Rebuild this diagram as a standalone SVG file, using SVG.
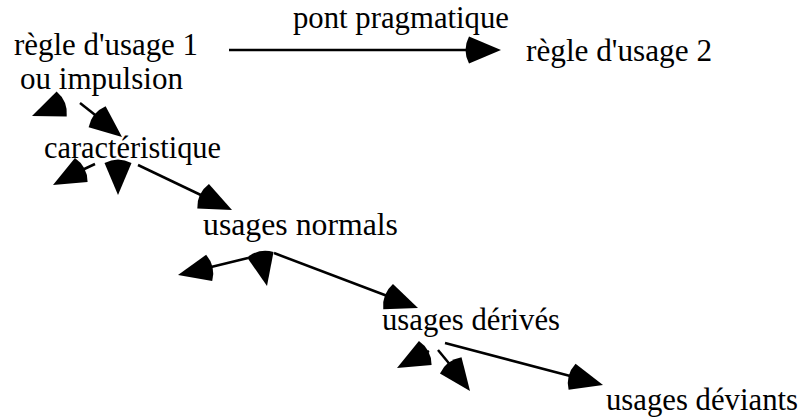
<svg xmlns="http://www.w3.org/2000/svg" xmlns:xlink="http://www.w3.org/1999/xlink" width="801" height="418" viewBox="0 0 801 418">
<style>
  text { font-family: "Liberation Serif", "Times New Roman", serif; font-size: 31px; fill: #000; }
  .ln { stroke: #000; stroke-width: 2.5; fill: none; }
  .hd { fill: #000; stroke: none; }
</style>
<defs>
  <path id="ah" d="M0,0 L-32,-13.5 Q-39,0 -32,13.5 Z"/>
</defs>
<rect width="801" height="418" fill="#fff"/>
<g id="regle1">
  <text x="14" y="55" textLength="184" lengthAdjust="spacingAndGlyphs">règle d'usage 1</text>
  <text x="20" y="89" textLength="163" lengthAdjust="spacingAndGlyphs">ou impulsion</text>
</g>
<g id="pont"><text x="293" y="28" textLength="216" lengthAdjust="spacingAndGlyphs">pont pragmatique</text></g>
<g id="regle2"><text x="526" y="61" textLength="186" lengthAdjust="spacingAndGlyphs">règle d'usage 2</text></g>
<g id="caracteristique"><text x="44" y="158" textLength="177" lengthAdjust="spacingAndGlyphs">caractéristique</text></g>
<g id="normals"><text x="203" y="235" textLength="195" lengthAdjust="spacingAndGlyphs">usages normals</text></g>
<g id="derives"><text x="382" y="330" textLength="178" lengthAdjust="spacingAndGlyphs">usages dérivés</text></g>
<g id="deviants"><text x="606" y="410" textLength="192" lengthAdjust="spacingAndGlyphs">usages déviants</text></g>
<g id="connectors">
  <line class="ln" x1="229" y1="50" x2="472" y2="50"/>
  <use class="hd" xlink:href="#ah" transform="translate(501,50)"/>
  <line class="ln" x1="80" y1="103" x2="99" y2="118"/>
  <use class="hd" xlink:href="#ah" transform="translate(122,137) rotate(39)"/>
  <use class="hd" xlink:href="#ah" transform="translate(32,116) rotate(158)"/>
  <line class="ln" x1="138" y1="165" x2="205" y2="197"/>
  <use class="hd" xlink:href="#ah" transform="translate(232,210) rotate(25.5)"/>
  <line class="ln" x1="95" y1="164" x2="80" y2="171"/>
  <use class="hd" xlink:href="#ah" transform="translate(53,185) rotate(152)"/>
  <use class="hd" xlink:href="#ah" transform="translate(118,195) rotate(90)"/>
  <line class="ln" x1="248" y1="258" x2="207" y2="268"/>
  <use class="hd" xlink:href="#ah" transform="translate(178,275) rotate(167)"/>
  <use class="hd" xlink:href="#ah" transform="translate(267,286) rotate(78)"/>
  <line class="ln" x1="274" y1="253" x2="390" y2="297"/>
  <use class="hd" xlink:href="#ah" transform="translate(418,308) rotate(21)"/>
  <line class="ln" x1="429" y1="351" x2="424" y2="354"/>
  <use class="hd" xlink:href="#ah" transform="translate(397,368) rotate(152)"/>
  <line class="ln" x1="438" y1="350" x2="452" y2="367"/>
  <use class="hd" xlink:href="#ah" transform="translate(470,391) rotate(53)"/>
  <line class="ln" x1="445" y1="343" x2="574" y2="377"/>
  <use class="hd" xlink:href="#ah" transform="translate(603,385) rotate(14.9)"/>
</g>
</svg>
